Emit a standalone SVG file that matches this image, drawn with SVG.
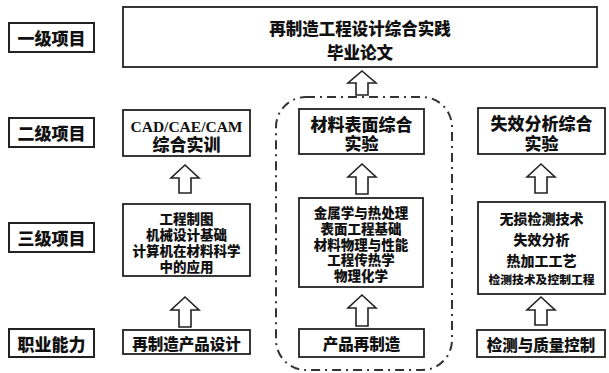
<svg xmlns="http://www.w3.org/2000/svg" width="609" height="373" viewBox="0 0 609 373">
<defs>
<style>
.box{fill:#fff;stroke:#222;stroke-width:1.8}
.lab{fill:#fff;stroke:#222;stroke-width:2}
.t{font-family:"Noto Sans CJK SC","Noto Sans",sans-serif;font-weight:900;fill:#111;text-anchor:middle;dominant-baseline:central}
.s{font-family:"Liberation Serif",serif;font-weight:bold;fill:#111;text-anchor:middle;dominant-baseline:central}
.arr{fill:#fff;stroke:#222;stroke-width:1.6;stroke-linejoin:miter}
.grp{fill:none;stroke:#333;stroke-width:2;stroke-dasharray:9 5 2 5}
</style>
</defs>
<rect width="609" height="373" fill="#fff"/>
<g id="group-dashed"><rect class="grp" x="276" y="97" width="176" height="273" rx="30"/></g>
<g id="label1"><rect class="lab" x="9" y="23" width="85" height="29"/><text class="t" x="51.5" y="37.5" font-size="17">一级项目</text></g>
<g id="label2"><rect class="lab" x="9" y="118" width="85" height="29"/><text class="t" x="51.5" y="132.5" font-size="17">二级项目</text></g>
<g id="label3"><rect class="lab" x="9" y="223" width="85" height="29"/><text class="t" x="51.5" y="237.5" font-size="17">三级项目</text></g>
<g id="label4"><rect class="lab" x="9" y="329" width="85" height="28"/><text class="t" x="51.5" y="343" font-size="17">职业能力</text></g>
<g id="top"><rect class="box" x="123" y="7" width="474" height="60"/><text class="t" x="360" y="28" font-size="16.5">再制造工程设计综合实践</text><text class="t" x="360" y="52" font-size="16.5">毕业论文</text></g>
<g id="cad"><rect class="box" x="123" y="110" width="127" height="46"/><text class="s" x="186.5" y="126" font-size="15.5">CAD/CAE/CAM</text><text class="t" x="186.5" y="143" font-size="17">综合实训</text></g>
<g id="mat"><rect class="box" x="299" y="109" width="125" height="45"/><text class="t" x="361.5" y="123" font-size="17">材料表面综合</text><text class="t" x="361.5" y="142" font-size="17">实验</text></g>
<g id="fail"><rect class="box" x="478" y="108" width="127" height="46"/><text class="t" x="541.5" y="122" font-size="17">失效分析综合</text><text class="t" x="541.5" y="142" font-size="17">实验</text></g>
<g id="c1r3"><rect class="box" x="123" y="204" width="127" height="72"/>
<text class="t" x="186.5" y="218" font-size="13.5">工程制图</text><text class="t" x="186.5" y="233.5" font-size="13.5">机械设计基础</text><text class="t" x="186.5" y="249.5" font-size="13.5">计算机在材料科学</text><text class="t" x="186.5" y="265.5" font-size="13.5">中的应用</text></g>
<g id="c2r3"><rect class="box" x="299" y="198" width="124" height="89"/>
<text class="t" x="361" y="212" font-size="13.5">金属学与热处理</text><text class="t" x="361" y="228" font-size="13.5">表面工程基础</text><text class="t" x="361" y="243.5" font-size="13.5">材料物理与性能</text><text class="t" x="361" y="259" font-size="13.5">工程传热学</text><text class="t" x="361" y="275" font-size="13.5">物理化学</text></g>
<g id="c3r3"><rect class="box" x="478" y="202" width="127" height="92"/>
<text class="t" x="541.5" y="218" font-size="14">无损检测技术</text><text class="t" x="541.5" y="239" font-size="14">失效分析</text><text class="t" x="541.5" y="260" font-size="14">热加工工艺</text><text class="t" x="541.5" y="278.5" font-size="11.8">检测技术及控制工程</text></g>
<g id="c1r4"><rect class="box" x="123" y="330" width="127" height="24"/><text class="t" x="186.5" y="342.5" font-size="15.5">再制造产品设计</text></g>
<g id="c2r4"><rect class="box" x="299" y="329" width="125" height="28"/><text class="t" x="361.5" y="343" font-size="15.5">产品再制造</text></g>
<g id="c3r4"><rect class="box" x="477" y="330" width="128" height="27"/><text class="t" x="541" y="343.5" font-size="15.5">检测与质量控制</text></g>
<g id="connectors">
<path class="arr" d="M362 71 L376 83 L368 83 L368 95 L356 95 L356 83 L348 83 Z"/>
<path class="arr" d="M185 165 L199 178 L191 178 L191 193 L179 193 L179 178 L171 178 Z"/>
<path class="arr" d="M362 164 L376 177 L368 177 L368 194 L356 194 L356 177 L348 177 Z"/>
<path class="arr" d="M541 164 L555 177 L547 177 L547 193 L535 193 L535 177 L527 177 Z"/>
<path class="arr" d="M185 297 L199 310 L191 310 L191 327 L179 327 L179 310 L171 310 Z"/>
<path class="arr" d="M362 295 L376 308 L368 308 L368 326 L356 326 L356 308 L348 308 Z"/>
<path class="arr" d="M541 297 L555 310 L547 310 L547 325 L535 325 L535 310 L527 310 Z"/>
</g>
</svg>
